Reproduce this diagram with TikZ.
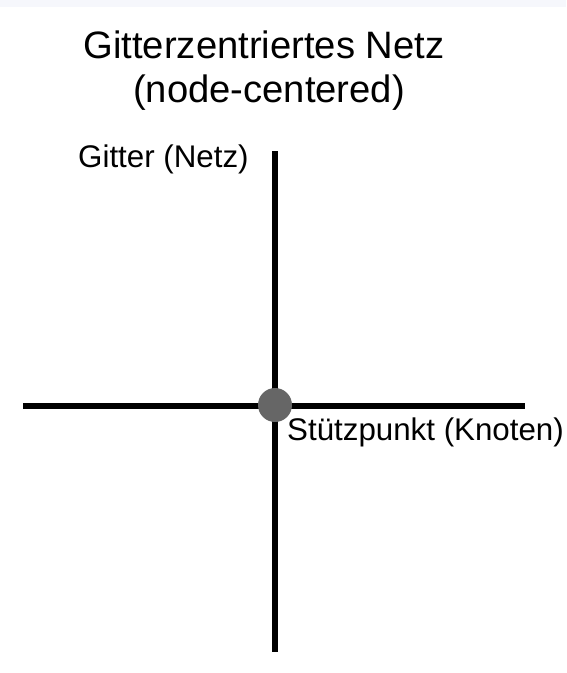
\documentclass[tikz,border=0pt]{standalone}
\usepackage{fontspec}
\setmainfont{Liberation Sans}
\usetikzlibrary{positioning}
\definecolor{knotengrau}{HTML}{666666}
\definecolor{kopfblau}{HTML}{F6F7FC}

\begin{document}
\begin{tikzpicture}[x=1pt, y=-1pt,
  gitterlinie/.style={line width=6pt},
  knoten/.style={circle, fill=knotengrau, minimum size=34pt, inner sep=0pt},
  titelschrift/.style={font=\fontsize{38.2}{44}\selectfont, inner sep=0pt, anchor=base},
  beschriftung/.style={font=\fontsize{31.3}{36}\selectfont, inner sep=0pt, anchor=base west}]
\useasboundingbox (0,0) rectangle (566,673);
\fill[kopfblau] (0,0) rectangle (566,7);
% Titel
\node (titel) [titelschrift] at (264,58) {Gitterzentriertes Netz};
\node (untertitel) [titelschrift] at (269,102) {(node-centered)};
% Gitterlinien
\coordinate (oben) at (275,151);
\coordinate (unten) at (275,652);
\coordinate (links) at (23,406);
\coordinate (rechts) at (525,406);
\draw[gitterlinie] (oben) -- (unten);
\draw[gitterlinie] (links) -- (rechts);
\node (knoten) [knoten] at (275,405) {};
% Beschriftungen
\node (gitter) [beschriftung] at (78,167) {Gitter (Netz)};
\node (stuetz) [beschriftung] at (287,440) {Stützpunkt (Knoten)};
\end{tikzpicture}
\end{document}
